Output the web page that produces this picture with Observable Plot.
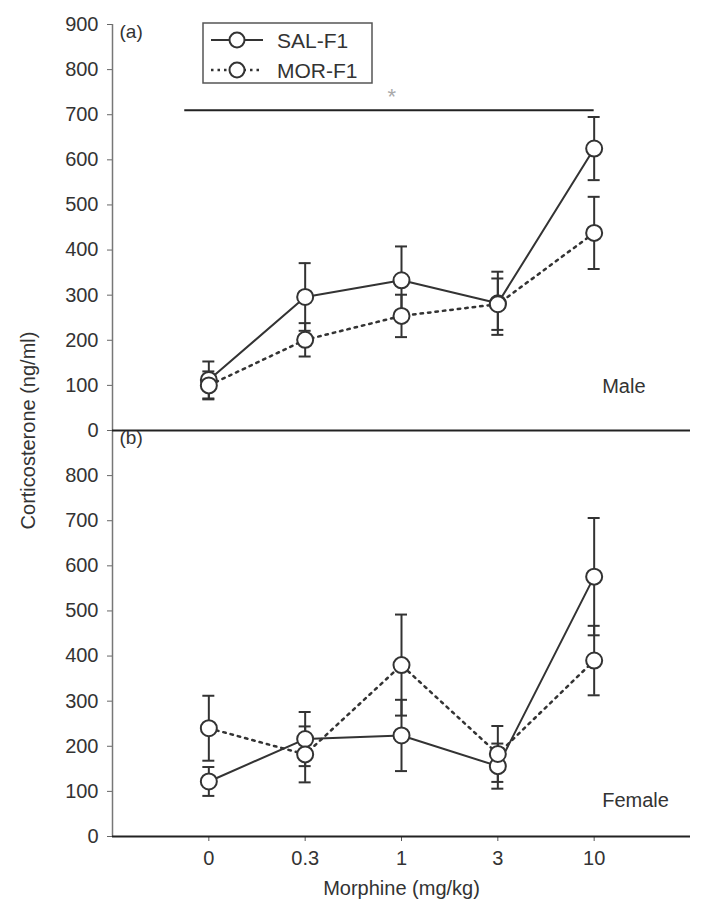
<!DOCTYPE html>
<html><head><meta charset="utf-8">
<script src="https://cdn.jsdelivr.net/npm/d3@7"></script>
<script src="https://cdn.jsdelivr.net/npm/@observablehq/plot@0.6"></script>
<style>body{margin:0;background:#fff}#chart{width:704px;height:921px}</style>
</head><body><div id="chart"></div>
<script>
// Doses (categories)
const doses = ["0", "0.3", "1", "3", "10"];
// Male panel (a)
const maleSal = [112, 296, 333, 282, 625];
const maleSalErr = [41, 75, 75, 70, 70];
const maleMor = [100, 201, 254, 280, 438];
const maleMorErr = [31, 37, 47, 57, 80];
// Female panel (b)
const femaleSal = [122, 216, 224, 156, 576];
const femaleSalErr = [32, 60, 79, 50, 130];
const femaleMor = [240, 182, 380, 183, 390];
const femaleMorErr = [72, 62, 112, 62, 77];
// y ticks per panel
const panelTicks = [0, 100, 200, 300, 400, 500, 600, 700, 800, 900];
// significance bar in male panel (dose index span, value)
const sigBar = [{x1: -0.25, x2: 4, value: 710}];
const sigStar = [{x: 1.9, value: 752, text: "*"}];

const OFFSET = 900; // male panel stacked above female panel
const series = [
  {sex: "Male", group: "SAL-F1", mean: maleSal, err: maleSalErr},
  {sex: "Male", group: "MOR-F1", mean: maleMor, err: maleMorErr},
  {sex: "Female", group: "SAL-F1", mean: femaleSal, err: femaleSalErr},
  {sex: "Female", group: "MOR-F1", mean: femaleMor, err: femaleMorErr}
];
const rows = [];
for (const s of series) {
  const off = s.sex === "Male" ? OFFSET : 0;
  s.mean.forEach((m, i) => rows.push({
    i, sex: s.sex, group: s.group, key: s.sex + s.group,
    y: m + off, lo: m - s.err[i] + off, hi: m + s.err[i] + off
  }));
}
const yTicks = [];
panelTicks.forEach(t => { if (t < 900) yTicks.push(t); });
panelTicks.forEach(t => yTicks.push(t + OFFSET));

const ink = "#333";
const font = "'Liberation Sans', Arial, Helvetica, sans-serif";
const sal = rows.filter(d => d.group === "SAL-F1");
const mor = rows.filter(d => d.group === "MOR-F1");

const panelText = [
  {x: -1, y: 1800, text: "(a)"},
  {x: -1, y: 900, text: "(b)"}
];
const sexText = [
  {x: 4, y: 997, text: "Male"},
  {x: 4, y: 80, text: "Female"}
];

const chart = Plot.plot({
  width: 704, height: 921,
  marginLeft: 112, marginRight: 14, marginTop: 24, marginBottom: 85,
  style: {fontFamily: font, fontSize: "20px", color: ink, background: "white", overflow: "visible"},
  x: {type: "linear", domain: [-1, 5]},
  y: {domain: [0, 1800]},
  marks: [
    Plot.axisX({ticks: doses.map((d, i) => i), tickFormat: i => doses[i], tickSize: 5, tickPadding: 9,
      label: "Morphine (mg/kg)", labelAnchor: "center", labelOffset: 58, labelArrow: "none", stroke: "#555"}),
    Plot.axisY({ticks: yTicks, tickFormat: v => v >= 900 ? v - 900 : v, tickSize: 5, tickPadding: 9,
      label: "Corticosterone (ng/ml)", labelAnchor: "center", labelOffset: 92, labelArrow: "none", stroke: "#666"}),
    Plot.ruleX([-1], {stroke: "#777", strokeWidth: 1.5}),
    Plot.ruleY([0, OFFSET], {stroke: "#222", strokeWidth: 2}),
    Plot.ruleY(sigBar, {x1: "x1", x2: "x2", y: d => d.value + OFFSET, stroke: "#222", strokeWidth: 2}),
    Plot.text(sigStar, {x: "x", y: d => d.value + OFFSET, text: "text", fill: "#aaa", fontSize: 22, dy: 6}),
    // error bars
    Plot.ruleX(rows, {x: "i", y1: "lo", y2: "hi", stroke: ink, strokeWidth: 2}),
    Plot.ruleY(rows, {x1: "i", x2: "i", y: "lo", insetLeft: -6, insetRight: -6, stroke: ink, strokeWidth: 2}),
    Plot.ruleY(rows, {x1: "i", x2: "i", y: "hi", insetLeft: -6, insetRight: -6, stroke: ink, strokeWidth: 2}),
    // lines
    Plot.line(sal, {x: "i", y: "y", z: "key", stroke: ink, strokeWidth: 2}),
    Plot.line(mor, {x: "i", y: "y", z: "key", stroke: ink, strokeWidth: 2.5, strokeDasharray: "2.5,5"}),
    // points
    Plot.dot(rows, {x: "i", y: "y", r: 8, fill: "white", stroke: ink, strokeWidth: 2}),
    // labels
    Plot.text(panelText, {x: "x", y: "y", text: "text", textAnchor: "start", lineAnchor: "top", dx: 7, dy: 0, fontSize: 19, fill: ink}),
    Plot.text(sexText, {x: "x", y: "y", text: "text", textAnchor: "start", dx: 8, fontSize: 20, fill: ink})
  ]
});
document.getElementById("chart").appendChild(chart);

// Legend box inside the male panel
const svg = d3.select(chart.tagName.toLowerCase() === "svg" ? chart : chart.querySelector("svg"));
const lg = svg.append("g").attr("font-family", font).attr("font-size", 21).attr("fill", ink)
  .attr("text-anchor", "start");
lg.append("rect").attr("x", 203).attr("y", 23).attr("width", 169).attr("height", 60)
  .attr("fill", "white").attr("stroke", "#555").attr("stroke-width", 1.5);
const legendItems = [
  {label: "SAL-F1", dash: null, w: 2},
  {label: "MOR-F1", dash: "2.5,4", w: 2.5}
];
legendItems.forEach((it, k) => {
  const cy = 40 + k * 30;
  lg.append("line").attr("x1", 211).attr("x2", 263).attr("y1", cy).attr("y2", cy)
    .attr("stroke", ink).attr("stroke-width", it.w).attr("stroke-dasharray", it.dash);
  lg.append("circle").attr("cx", 237).attr("cy", cy).attr("r", 7.5)
    .attr("fill", "white").attr("stroke", ink).attr("stroke-width", 2);
  lg.append("text").attr("x", 277).attr("y", cy + 7.5).attr("text-anchor", "start").text(it.label);
});
</script>
</body></html>
